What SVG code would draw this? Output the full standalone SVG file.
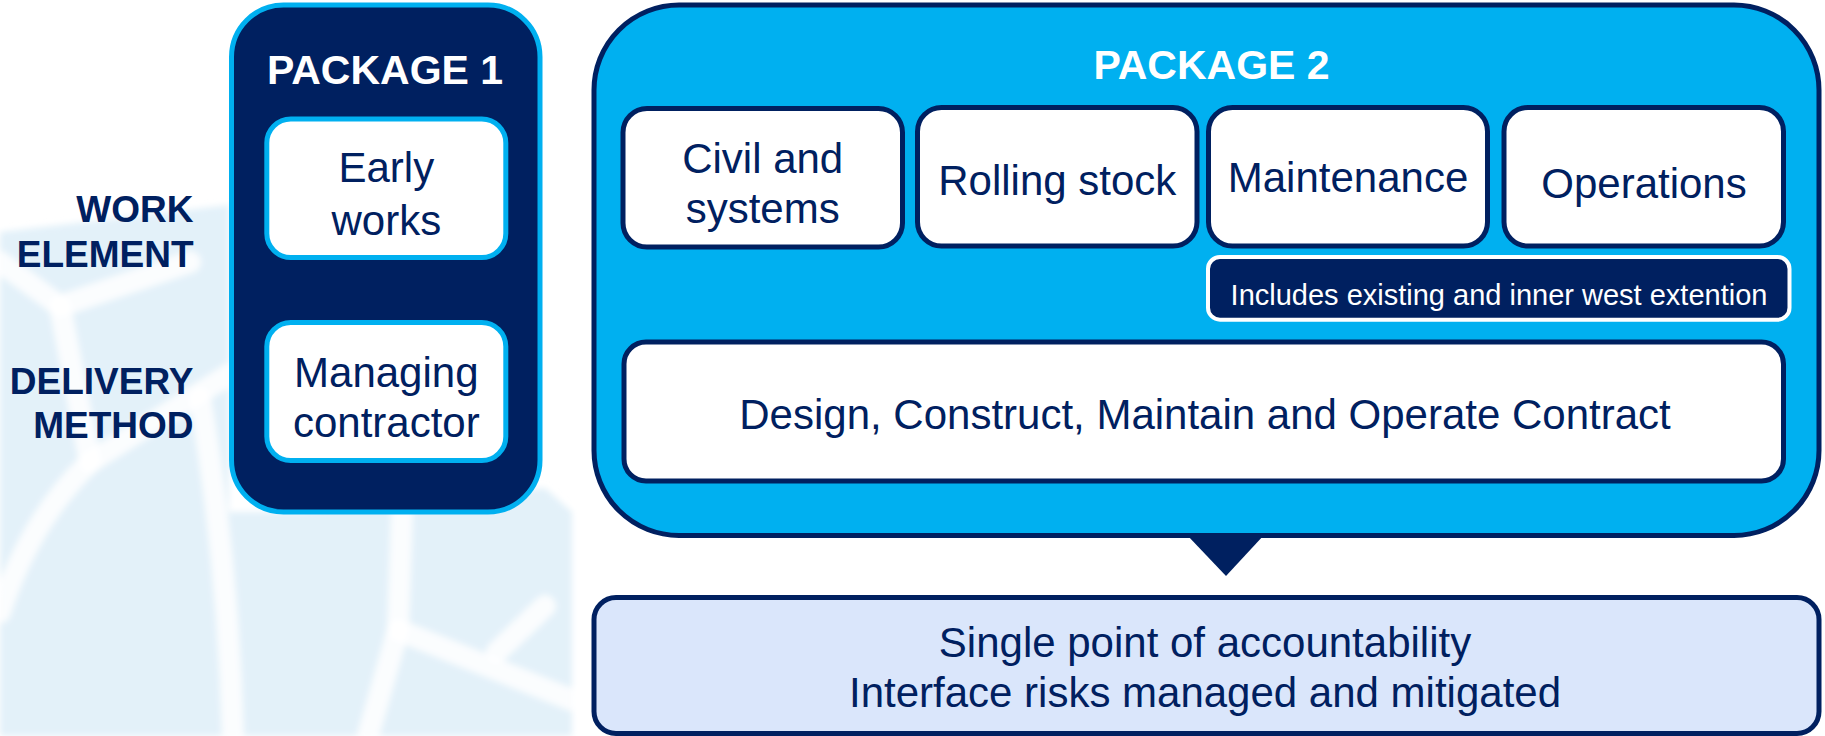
<svg xmlns="http://www.w3.org/2000/svg" width="1825" height="736" viewBox="0 0 1825 736">
<defs>
<filter id="soft" x="-5%" y="-5%" width="110%" height="110%"><feGaussianBlur stdDeviation="3"/></filter>
</defs>
<style>
text{font-family:"Liberation Sans",Arial,sans-serif;}
.lbl{font-size:42px;fill:#002060;text-anchor:middle;}
.hdr{font-size:41px;font-weight:bold;fill:#ffffff;text-anchor:middle;}
.side{font-size:37px;font-weight:bold;fill:#002060;text-anchor:end;}
.p1box{fill:#ffffff;stroke:#00B0F0;stroke-width:5;}
.p2box{fill:#ffffff;stroke:#002060;stroke-width:5;}
.band{fill:none;stroke:#ffffff;stroke-width:22;stroke-linecap:round;stroke-linejoin:round;opacity:0.85;}
</style>
<rect width="1825" height="736" fill="#ffffff"/>
<g id="watermark" filter="url(#soft)">
<path d="M0,232 L229,205 L229,512 L300,512 L545,488 L572,512 L572,736 L0,736 Z" fill="#E3F1F9"/>
<path class="band" d="M0,262 L60,306 L190,262"/>
<path class="band" d="M60,306 L90,462"/>
<path class="band" d="M90,462 L233,372"/>
<path class="band" d="M90,462 Q30,520 0,612"/>
<path class="band" d="M200,398 Q228,560 233,736"/>
<path class="band" d="M402,512 L398,630 L368,736"/>
<path class="band" d="M398,630 L572,700"/>
<path class="band" d="M497,652 L545,606"/>
</g>
<g id="side-labels">
<text class="side" x="193.5" y="221.7">WORK</text>
<text class="side" x="193.5" y="266.6">ELEMENT</text>
<text class="side" x="193.5" y="393.6">DELIVERY</text>
<text class="side" x="193.5" y="437.7">METHOD</text>
</g>
<g id="package1">
<rect x="231.5" y="5" width="308.5" height="507" rx="52" fill="#002060" stroke="#00B0F0" stroke-width="5"/>
<text class="hdr" x="385" y="83.6">PACKAGE 1</text>
</g>
<g id="early-works">
<rect class="p1box" x="266.8" y="119" width="239" height="138.5" rx="24"/>
<text class="lbl" x="386.3" y="182">Early</text>
<text class="lbl" x="386.3" y="234.7">works</text>
</g>
<g id="managing-contractor">
<rect class="p1box" x="266.8" y="322.5" width="239" height="138" rx="24"/>
<text class="lbl" x="386.3" y="386.5">Managing</text>
<text class="lbl" x="386.3" y="437">contractor</text>
</g>
<g id="package2">
<rect x="594" y="5" width="1225" height="530.5" rx="85" fill="#00B0F0" stroke="#002060" stroke-width="5"/>
<text class="hdr" x="1211.5" y="79">PACKAGE 2</text>
</g>
<g id="civil-systems">
<rect class="p2box" x="623" y="108.5" width="279.5" height="138.5" rx="24"/>
<text class="lbl" x="762.7" y="173.3">Civil and</text>
<text class="lbl" x="762.7" y="222.7">systems</text>
</g>
<g id="rolling-stock">
<rect class="p2box" x="917.5" y="107.5" width="279.5" height="138.5" rx="24"/>
<text class="lbl" x="1057.3" y="195">Rolling stock</text>
</g>
<g id="maintenance">
<rect class="p2box" x="1208.5" y="107.5" width="279" height="138.5" rx="24"/>
<text class="lbl" x="1348" y="192">Maintenance</text>
</g>
<g id="operations">
<rect class="p2box" x="1504" y="107.5" width="279.5" height="138.5" rx="24"/>
<text class="lbl" x="1644" y="198">Operations</text>
</g>
<g id="includes-note">
<rect x="1208" y="257" width="581.5" height="62.7" rx="12" fill="#002060" stroke="#ffffff" stroke-width="4"/>
<text x="1499" y="305" font-size="29" fill="#ffffff" text-anchor="middle">Includes existing and inner west extention</text>
</g>
<g id="dcmo-contract">
<rect class="p2box" x="624" y="342" width="1159.5" height="139" rx="22"/>
<text class="lbl" x="1205" y="429.3">Design, Construct, Maintain and Operate Contract</text>
</g>
<g id="connectors">
<polygon points="1187,535 1264,535 1226,576" fill="#002060"/>
</g>
<g id="outcome">
<rect x="594" y="597.5" width="1225" height="136" rx="22" fill="#DAE6FB" stroke="#002060" stroke-width="5"/>
<text class="lbl" x="1205" y="656.7">Single point of accountability</text>
<text class="lbl" x="1205" y="707.3">Interface risks managed and mitigated</text>
</g>
</svg>
